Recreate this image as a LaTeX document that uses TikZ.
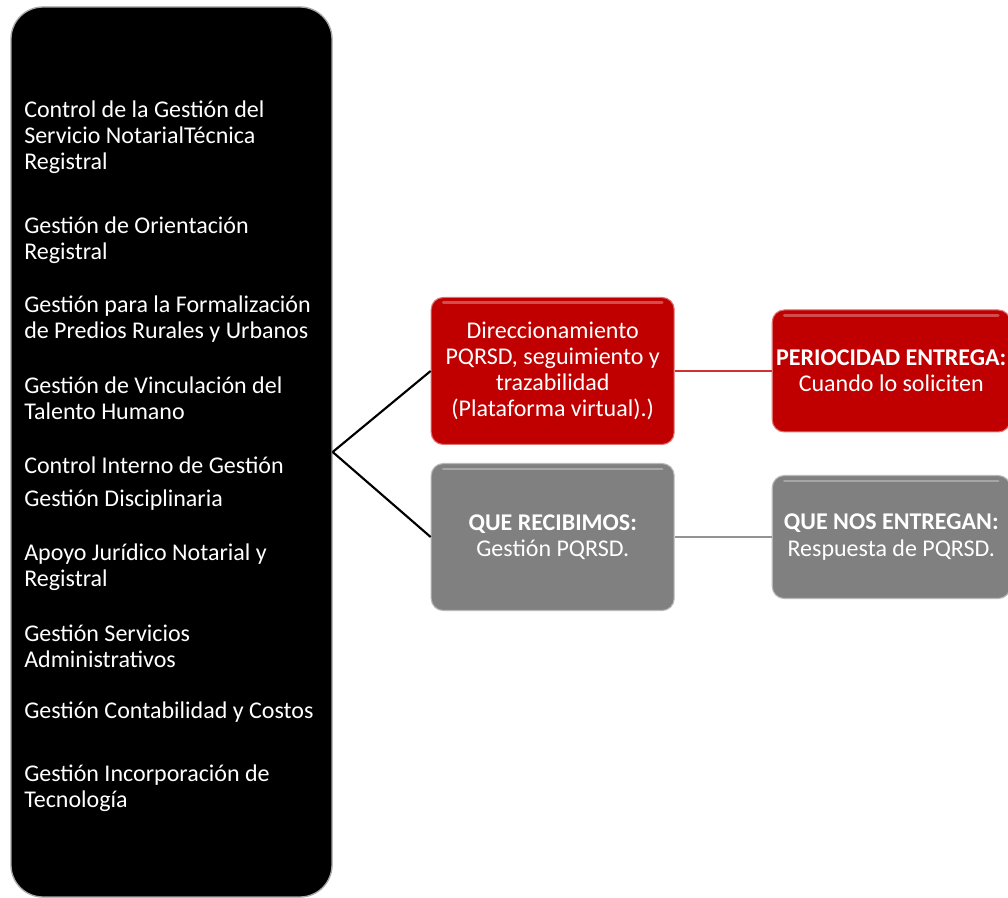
\documentclass[tikz,border=0pt]{standalone}
\usepackage{fontspec}
\setmainfont{Carlito}
\usepackage{xcolor}
\usetikzlibrary{positioning}
\definecolor{rojo}{RGB}{192,0,0}
\definecolor{gris}{RGB}{128,128,128}

\begin{document}
\begin{tikzpicture}[
    x=0.75pt, y=-0.75pt,
    font=\fontsize{18}{19.6}\selectfont,
    procesos/.style={rectangle, draw=gray!70, fill=black, line width=1pt, minimum width=240.75pt, minimum height=667.5pt, rounded corners=24pt},
    item/.style={anchor=west, inner sep=0pt, align=left, text=white},
    caja/.style={rectangle, draw=#1!55!white, fill=#1, line width=0.8pt, text=white, align=center, inner sep=1pt, rounded corners=9pt,
        path picture={\draw[white, opacity=0.3, line width=2pt, line cap=round] ([xshift=9pt,yshift=-4pt]path picture bounding box.north west) -- ([xshift=-9pt,yshift=-4pt]path picture bounding box.north east);}},
    linea/.style={line width=1.6pt}
]
\useasboundingbox (0,0) rectangle (1008,898);

\node[procesos] (procesos) at (171.5,452) {};

\node[item] (p1) at (24,137) {Control de la Gestión del\\Servicio NotarialTécnica\\Registral};
\node[item] (p2) at (24,240) {Gestión de Orientación\\Registral};
\node[item] (p3) at (24,319.5) {Gestión para la Formalización\\de Predios Rurales y Urbanos};
\node[item] (p4) at (24,398) {Gestión de Vinculación del\\Talento Humano};
\node[item] (p5) at (24,465) {Control Interno de Gestión};
\node[item] (p6) at (24,500) {Gestión Disciplinaria};
\node[item] (p7) at (24,567) {Apoyo Jurídico Notarial y\\Registral};
\node[item] (p8) at (24,646) {Gestión Servicios\\Administrativos};
\node[item] (p9) at (24,712) {Gestión Contabilidad y Costos};
\node[item] (p10) at (24,788) {Gestión Incorporación de\\Tecnología};

\node[caja=rojo, minimum width=182.25pt, minimum height=110.25pt, above right=5.25pt and 73.5pt of procesos.east] (direcc) {Direccionamiento\\PQRSD, seguimiento y\\trazabilidad\\(Plataforma virtual).)};
\node[caja=gris, minimum width=182.25pt, minimum height=110.25pt, below right=8.25pt and 73.5pt of procesos.east] (recibimos) {\textbf{QUE RECIBIMOS:}\\Gestión PQRSD.};
\node[caja=rojo, minimum width=178.5pt, minimum height=91.5pt, right=72.75pt of direcc] (periodo) {\textbf{PERIOCIDAD ENTREGA:}\\Cuando lo soliciten};
\node[caja=gris, minimum width=178.5pt, minimum height=92.25pt, right=72.75pt of recibimos] (entregan) {\textbf{QUE NOS ENTREGAN:}\\Respuesta de PQRSD.};

\draw[linea] (procesos.east) -- (direcc.west);
\draw[linea] (procesos.east) -- (recibimos.west);
\draw[linea, rojo!80!white] (direcc.east) -- (periodo.west);
\draw[linea, gris!85!white] (recibimos.east) -- (entregan.west);

\end{tikzpicture}
\end{document}
